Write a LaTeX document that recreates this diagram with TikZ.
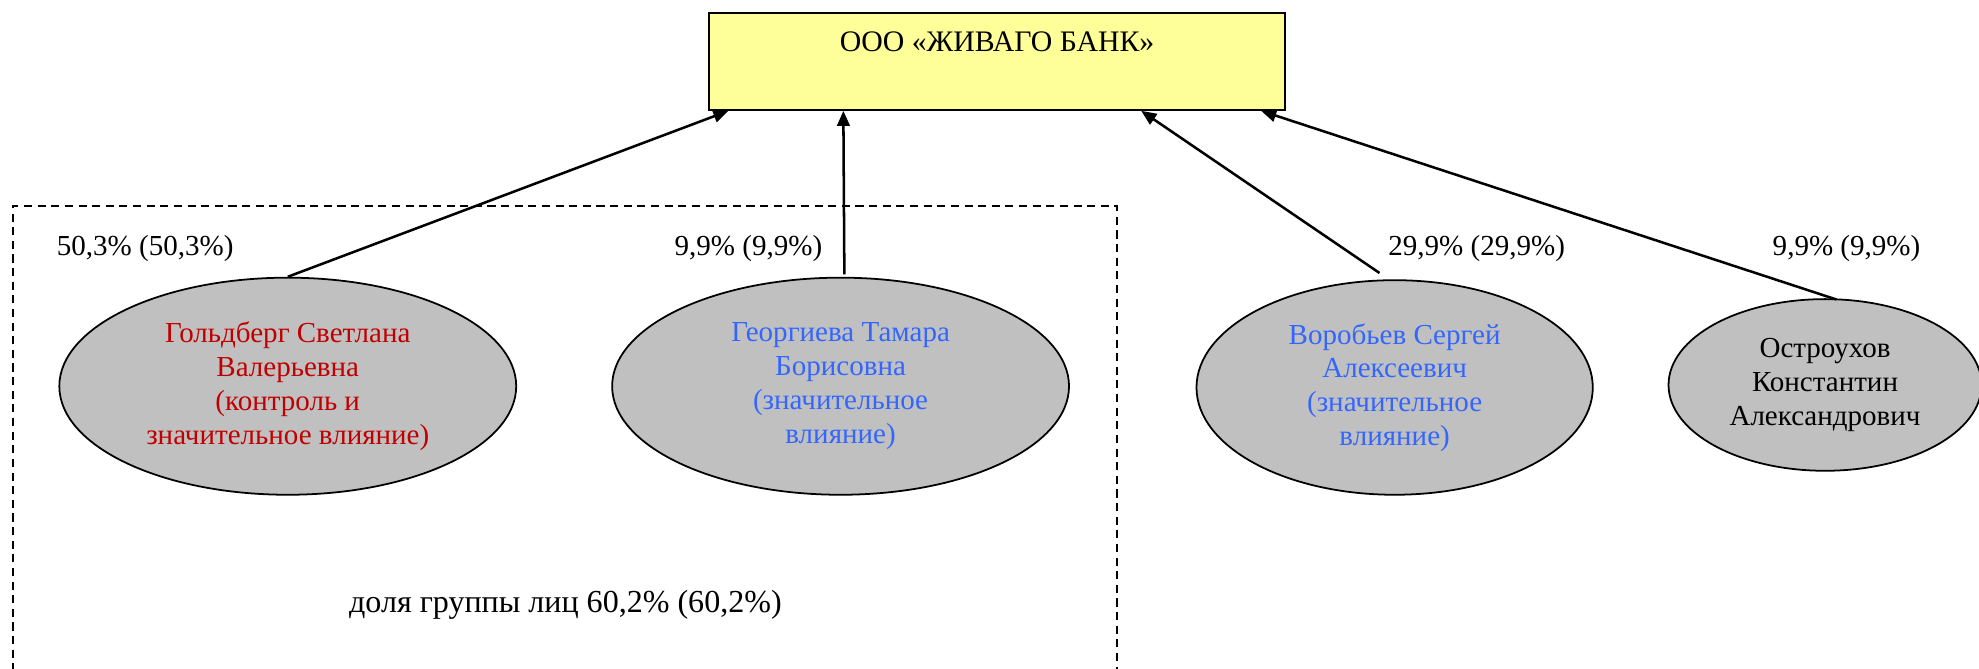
\documentclass[tikz,border=0pt]{standalone}
\usepackage{fontspec}
\setmainfont{Liberation Serif}
\usetikzlibrary{shapes.geometric,arrows.meta,calc}
\definecolor{bankyellow}{HTML}{FFFF99}
\definecolor{persongray}{HTML}{C0C0C0}
\definecolor{ctrlred}{HTML}{C00000}
\definecolor{inflblue}{HTML}{3366FF}
\begin{document}
\begin{tikzpicture}[x=0.5pt,y=-0.5pt,
  every node/.style={font=\fontsize{11.5pt}{13.4pt}\selectfont},
  bankbox/.style={draw=black,line width=0.8pt,fill=bankyellow,minimum width=228pt,minimum height=38.5pt,inner sep=0pt},
  person/.style={ellipse,draw=black,line width=0.7pt,fill=persongray,align=center,inner sep=0pt},
  share/.style={anchor=center,inner sep=0pt},
  link/.style={line width=1pt,-{Triangle[length=6pt,width=5pt]}},
  groupbox/.style={line width=0.75pt,dash pattern=on 3.2pt off 2.2pt}
]
\useasboundingbox (0,0) rectangle (1568,530);
% group box (open at bottom)
\coordinate (gbl) at (10,532);
\coordinate (gtl) at (10,163);
\coordinate (gtr) at (885,163);
\coordinate (gbr) at (885,532);
\draw[groupbox] (gbl) -- (gtl) -- (gtr) -- (gbr);
% bank
\node[bankbox] (bank) at (790,48.5) {};
\node[anchor=base,inner sep=0pt,font=\fontsize{11.8pt}{14pt}\selectfont] (banktext) at (790,41) {ООО «ЖИВАГО БАНК»};
% persons
\node[person,minimum width=181pt,minimum height=86pt,text=ctrlred] (p1) at (228,306)
  {Гольдберг Светлана\\Валерьевна\\(контроль и\\значительное влияние)};
\node[person,minimum width=181pt,minimum height=86pt,text=inflblue] (p2) at (666,306)
  {Георгиева Тамара\\Борисовна\\(значительное\\влияние)};
\node[person,minimum width=157pt,minimum height=85pt,text=inflblue] (p3) at (1105,307)
  {Воробьев Сергей\\Алексеевич\\(значительное\\влияние)};
\node[person,minimum width=124pt,minimum height=68pt,text=black] (p4) at (1446,305)
  {Остроухов\\Константин\\Александрович};
% share labels
\node[share] (s1) at (115,197) {50,3\% (50,3\%)};
\node[share] (s2) at (593,197) {9,9\% (9,9\%)};
\node[share] (s3) at (1170,197) {29,9\% (29,9\%)};
\node[share] (s4) at (1463,197) {9,9\% (9,9\%)};
\node[share,font=\fontsize{12.7pt}{15pt}\selectfont] (grp) at (448,479) {доля группы лиц 60,2\% (60,2\%)};
% connectors
\draw[link] (p1.north) -- ($(bank.south west)+(16,0)$);
\draw[link] ($(p2.north)+(3,-2)$) -- ($(bank.south west)+(107,0)$);
\draw[link] ($(p3.north)+(-12,-5)$) -- ($(bank.south west)+(343,0)$);
\draw[link] ($(p4.north)+(9,1)$) -- ($(bank.south west)+(438,0)$);
\end{tikzpicture}
\end{document}
